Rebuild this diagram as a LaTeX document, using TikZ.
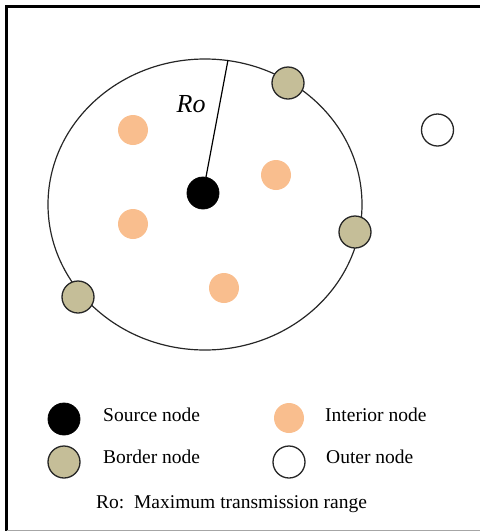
\documentclass[tikz,border=0pt]{standalone}
\usepackage{fontspec}
\setmainfont{Liberation Serif}
\definecolor{peach}{RGB}{249,190,142}
\definecolor{khaki}{RGB}{197,190,152}
\begin{document}
\begin{tikzpicture}[x=1pt,y=-1pt,
  dot/.style={circle,inner sep=0pt,minimum size=32pt},
  src/.style={dot,fill=black,draw=black,line width=0.8pt},
  interior/.style={dot,fill=peach,minimum size=30pt},
  border/.style={dot,fill=khaki,draw=black!85,line width=1.3pt},
  outer/.style={dot,fill=white,draw=black!85,line width=1.3pt},
  lbl/.style={anchor=base west,inner sep=0pt,font=\fontsize{19.5}{20}\selectfont}]
\useasboundingbox (0,0) rectangle (480,531);
% frame
\draw[line width=2.7pt] (6.5,531) -- (6.5,6.5) -- (480,6.5);
\draw[black!35,line width=1pt] (6.5,530) -- (480,530);
% range
\draw[line width=1.2pt,black!85] (205,204.5) ellipse [x radius=157, y radius=145.5];
\coordinate (top) at (228,60);
% nodes
\node[src] (s) at (203,193) {};
\draw[line width=1.2pt] (s) -- (top);
\node[anchor=base west,inner sep=0pt,font=\fontsize{26}{26}\selectfont\itshape] (ro) at (176.5,112.5) {Ro};
\node[interior] (i1) at (133,130) {};
\node[interior] (i2) at (276,175) {};
\node[interior] (i3) at (133,224) {};
\node[interior] (i4) at (224,288) {};
\node[border] (b1) at (288,83) {};
\node[border] (b2) at (355,232) {};
\node[border] (b3) at (78,297) {};
\node[outer] (o1) at (437.5,130) {};
% legend
\node[src] (ls) at (64,419) {};
\node[lbl] (ts) at (103,421.5) {Source node};
\node[interior] (li) at (289,418) {};
\node[lbl] (ti) at (325,421.5) {Interior node};
\node[border] (lb) at (64,462) {};
\node[lbl] (tb) at (103,463.5) {Border node};
\node[outer] (lo) at (289,462) {};
\node[lbl] (to) at (326,463.5) {Outer node};
\node[lbl] (tr) at (96,508) {Ro:\ \ Maximum transmission range};
\end{tikzpicture}
\end{document}
